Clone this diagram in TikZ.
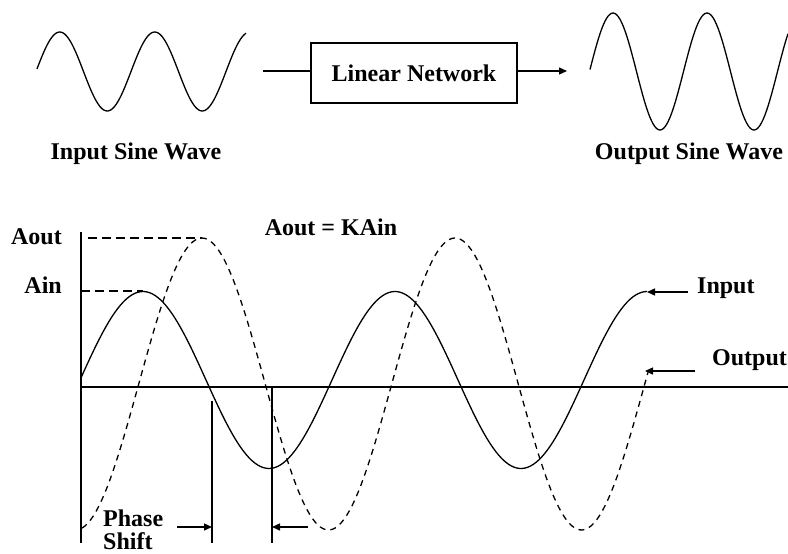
\documentclass[tikz,border=0pt]{standalone}
\usepackage{fontspec}
\setmainfont{Liberation Serif}
\usetikzlibrary{arrows.meta}
\begin{document}
\begin{tikzpicture}[x=1pt,y=-1pt,
  lbl/.style={font=\fontsize{24}{26}\selectfont\bfseries, inner sep=0pt},
  thick line/.style={line width=1.6pt},
  wave/.style={line width=1.3pt},
  dwave/.style={line width=1.3pt, dash pattern=on 6pt off 5pt},
  dline/.style={line width=1.3pt, dash pattern=on 9pt off 5pt},
  arr/.style={line width=1.4pt, -{Triangle[length=8pt,width=7pt]}}]
\useasboundingbox (0,0) rectangle (788,554);
\fill[white] (0,0) rectangle (788,554);
% ---------- top block diagram ----------
\draw[wave] plot[domain=37:246, samples=120] (\x, {71.5 - 39.5*sin((\x-36)/95*360)});
\draw[wave] plot[domain=590:788, samples=120] (\x, {71.5 - 58.5*sin((\x-589.5)/94*360)});
\node[lbl, draw, thick line, minimum width=206pt, minimum height=60pt, inner sep=0pt] (box) at (414,73) {Linear Network};
\coordinate (lin) at (263,71);
\coordinate (lout) at (567,71);
\draw[thick line] (lin) -- (lin -| box.west);
\draw[arr] (lout -| box.east) -- (lout);
\node[lbl, anchor=base] (inlbl) at (136,159) {Input Sine Wave};
\node[lbl, anchor=base] (outlbl) at (689,159) {Output Sine Wave};
% ---------- bottom graph ----------
\coordinate (ytop) at (81,232);
\coordinate (ybot) at (81,543);
\coordinate (xl) at (81,387);
\coordinate (xr) at (788,387);
\draw[thick line] (ytop) -- (ybot);
\draw[thick line] (xl) -- (xr);
\coordinate (aoutpk) at (202,238);
\coordinate (ainpk) at (143,291);
\draw[dline] (88,238) -- (aoutpk);
\draw[dline] (ytop |- ainpk) -- (ainpk);
\draw[wave] plot[domain=81:647, samples=200] (\x, {380 - 88.5*sin((\x-80)/252*360)});
\draw[dwave] plot[domain=82:648, samples=200] (\x, {384 - 146*cos((\x-202)/253*360)});
\node[lbl, anchor=base east] (aout) at (62,244) {Aout};
\node[lbl, anchor=base east] (ain) at (62,293) {Ain};
\node[lbl, anchor=base] (eq) at (331,235) {Aout = KAin};
% phase shift markers
\coordinate (p1t) at (212,401);
\coordinate (p1b) at (212,543);
\coordinate (p2t) at (272,387);
\coordinate (p2b) at (272,543);
\draw[thick line] (p1t) -- (p1b);
\draw[thick line] (p2t) -- (p2b);
\coordinate (pa1) at (177,527);
\coordinate (pa2) at (308,527);
\draw[arr] (pa1) -- (pa1 -| p1t);
\draw[arr] (pa2) -- (pa2 -| p2t);
\node[lbl, anchor=base west] (phase) at (103,526) {Phase};
\node[lbl, anchor=base west] (shift) at (103,549) {Shift};
% input / output labels
\node[lbl, anchor=base west] (inp) at (697,293) {Input};
\node[lbl, anchor=base west] (outp) at (712,365) {Output};
\coordinate (ia) at (688,292);
\coordinate (it) at (647,292);
\coordinate (oa) at (695,371);
\coordinate (ot) at (645,371);
\draw[arr] (ia) -- (it);
\draw[arr] (oa) -- (ot);
\end{tikzpicture}
\end{document}
